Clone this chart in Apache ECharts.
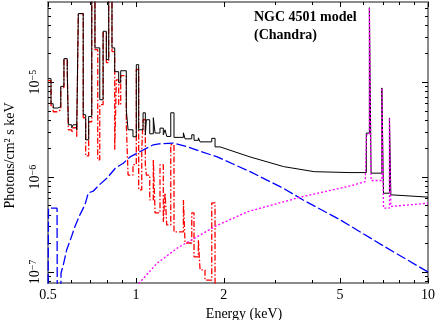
<!DOCTYPE html>
<html>
<head>
<meta charset="utf-8">
<script src="https://cdn.jsdelivr.net/npm/echarts@6/dist/echarts.min.js"></script>
<style>
html, body { margin: 0; padding: 0; background: #fff; }
#chart { width: 436px; height: 320px; }
</style>
</head>
<body>
<div id="chart"></div>
<script>
// total model (black): binned part below 2 keV (keV edges, photons/cm2/s/keV)
const totalEdges = [0.5, 0.512, 0.521, 0.540, 0.553, 0.567, 0.582, 0.587, 0.603, 0.610,
  0.627, 0.635, 0.660, 0.673, 0.689, 0.706, 0.724, 0.752, 0.772, 0.792,
  0.807, 0.828, 0.846, 0.873, 0.887, 0.927, 0.940, 0.977, 1.003, 1.022,
  1.058, 1.077, 1.086, 1.115, 1.147, 1.163, 1.209, 1.241, 1.258, 1.275,
  1.316, 1.350, 1.454, 1.473, 1.553, 1.581, 1.636, 1.658, 1.818, 1.866, 1.941];
const totalFlux = [1.09e-5, 5.93e-6, 5.34e-6, 5.51e-6, 9.03e-6, 1.77e-5, 1.33e-5, 3.56e-6, 3.31e-6, 3.56e-6,
  3.15e-6, 5.29e-5, 4.54e-6, 2.47e-6, 4.35e-6, 1.2e-4, 2.30e-5, 6.53e-6, 3.44e-5, 1.73e-5,
  1.2e-4, 2.30e-5, 1.29e-5, 9.88e-6, 1.32e-5, 5.12e-6, 3.15e-6, 2.66e-6, 1.53e-5, 3.15e-6,
  4.76e-6, 2.79e-6, 4.02e-6, 2.86e-6, 4.22e-6, 2.91e-6, 3.28e-6, 2.79e-6, 3.15e-6, 2.68e-6,
  4.76e-6, 2.62e-6, 2.93e-6, 2.53e-6, 2.79e-6, 2.44e-6, 2.59e-6, 2.35e-6, 2.56e-6, 2.08e-6];
// total model continuum 2-6 keV
const totalContE = [1.941, 2.46, 3.2, 4.08, 5.41, 6.15];
const totalContF = [2.02e-6, 1.63e-6, 1.29e-6, 1.14e-6, 1.115e-6, 1.115e-6];
// Fe K region
const totalFeEdges = [6.15, 6.30, 6.385, 6.95, 7.04, 7.38, 7.46];
const totalFeFlux = [2.91e-6, 6.1e-5, 1.10e-6, 8.7e-6, 6.76e-7, 4.2e-6];
const totalTailE = [7.46, 10];
const totalTailF = [6.5e-7, 6.15e-7];

// thermal component (red dash-dot)
const thermEdges = [0.5, 0.512, 0.521, 0.540, 0.553, 0.567, 0.582, 0.587, 0.603, 0.610,
  0.627, 0.635, 0.660, 0.673, 0.689, 0.706, 0.724, 0.740, 0.752, 0.772,
  0.792, 0.807, 0.828, 0.846, 0.857, 0.873, 0.887, 0.927, 0.940, 0.977,
  1.003, 1.022, 1.047, 1.058, 1.077, 1.086, 1.115, 1.147, 1.163, 1.209,
  1.241, 1.258, 1.275, 1.316, 1.350, 1.454, 1.473, 1.553, 1.581, 1.636,
  1.658, 1.724, 1.818, 1.866, 1.941];
const thermFlux = [1.04e-5, 5.65e-6, 4.88e-6, 5.12e-6, 8.75e-6, 1.77e-5, 1.29e-5, 3.15e-6, 2.93e-6, 3.31e-6,
  2.66e-6, 5.29e-5, 4.22e-6, 1.67e-6, 3.83e-6, 1.2e-4, 2.20e-5, 1.52e-6, 5.79e-6, 3.33e-5,
  1.61e-5, 1.2e-4, 2.10e-5, 1.94e-6, 1.06e-5, 5.79e-6, 1.17e-5, 3.56e-6, 1.05e-6, 1.35e-6,
  1.36e-5, 7.32e-7, 1.94e-6, 4.02e-6, 1.35e-6, 1.05e-6, 5.74e-7, 1.52e-6, 4.19e-7, 1.35e-6,
  3.36e-7, 6.81e-7, 3.13e-7, 2.19e-6, 2.64e-7, 5.74e-7, 2.02e-7, 4.19e-7, 1.44e-7, 2.17e-7,
  1.05e-7, 8.2e-8, 5.34e-7, 5e-8];

// absorbed power law (blue dashed)
const plE = [0.5, 0.502, 0.537, 0.538, 0.553, 0.554, 0.564, 0.579, 0.599, 0.618, 0.643, 0.669, 0.687,
  0.714, 0.75, 0.795, 0.85, 0.905, 0.955, 1.03, 1.147, 1.2, 1.34, 1.49, 1.65, 1.89, 2.46, 3.2, 3.75,
  5.04, 7.1, 10];
const plF = [4e-8, 4.7e-7, 4.7e-7, 4e-8, 4e-8, 9.7e-8, 1.18e-7, 1.7e-7, 2.26e-7, 3.0e-7, 4.0e-7, 5.1e-7, 6.8e-7,
  7.1e-7, 8.3e-7, 9.7e-7, 1.24e-6, 1.40e-6, 1.63e-6, 1.85e-6, 2.19e-6, 2.24e-6, 2.28e-6, 2.1e-6, 1.88e-6,
  1.64e-6, 1.14e-6, 7.6e-7, 5.7e-7, 3.5e-7, 1.85e-7, 1.0e-7];

// heavily absorbed power law + Fe lines (magenta dotted)
const hardE = [1.0, 1.18, 1.38, 1.70, 1.91, 2.42, 3.70, 5.45, 6.10, 6.15];
const hardF = [7e-8, 1.23e-7, 1.77e-7, 2.56e-7, 3.13e-7, 4.33e-7, 6.2e-7, 8.1e-7, 8.95e-7, 9.0e-7];
const hardFeEdges = [6.15, 6.30, 6.385, 6.95, 7.04, 7.38, 7.46];
const hardFeFlux = [2.8e-6, 6.1e-5, 9.2e-7, 8.7e-6, 4.7e-7, 4.2e-6];
const hardTailE = [7.46, 10];
const hardTailF = [4.9e-7, 5.3e-7];

// axis ticks
const xMajor = [0.5, 1, 2, 5, 10];
const xMinor = [0.6, 0.7, 0.8, 0.9, 3, 4, 6, 7, 8, 9];
const yMajor = [1e-7, 1e-6, 1e-5];
const yMinor = [8e-8, 9e-8, 2e-7, 3e-7, 4e-7, 5e-7, 6e-7, 7e-7, 8e-7, 9e-7,
  2e-6, 3e-6, 4e-6, 5e-6, 6e-6, 7e-6, 8e-6, 9e-6, 2e-5, 3e-5, 4e-5, 5e-5, 6e-5];

function steps(edges, flux) {
  const out = [];
  flux.forEach((f, i) => { out.push([edges[i], f], [edges[i + 1], f]); });
  return out;
}
function pairs(e, f) {
  return e.map((x, i) => [x, f[i]]);
}

const font = "Liberation Serif";
const frame = { show: true, lineStyle: { color: "#8a8a8a", width: 2 } };

function xAxisOf(pos, ticks, len, main) {
  return {
    type: "log", logBase: 10, min: 0.5, max: 10, position: pos,
    axisLine: main ? frame : { show: false },
    axisTick: { show: true, inside: true, length: len, customValues: ticks, lineStyle: { color: "#000", width: 1 } },
    axisLabel: main && pos === "bottom" ? {
      customValues: xMajor, margin: 5, color: "#000", fontFamily: font, fontSize: 14,
      formatter: (v) => String(+(+v).toPrecision(3)),
    } : { show: false },
    splitLine: { show: false },
    name: main && pos === "bottom" ? "Energy (keV)" : "",
    nameLocation: "middle", nameGap: 19,
    nameTextStyle: { fontFamily: font, fontSize: 14, color: "#000", padding: [0, 0, 0, 12] },
  };
}
function yAxisOf(pos, ticks, len, main) {
  return {
    type: "log", logBase: 10, min: 7.65e-8, max: 7e-5, position: pos,
    axisLine: main ? frame : { show: false },
    axisTick: { show: true, inside: true, length: len, customValues: ticks, lineStyle: { color: "#000", width: 1 } },
    axisLabel: main && pos === "left" ? {
      customValues: yMajor, margin: 6, rotate: 90, color: "#000",
      formatter: (v) => "{m|10}{s|\u2212" + Math.round(-Math.log10(v)) + "}",
      rich: {
        m: { fontFamily: font, fontSize: 14, color: "#000" },
        s: { fontFamily: font, fontSize: 10, color: "#000", verticalAlign: "top" },
      },
    } : { show: false },
    splitLine: { show: false },
    name: main && pos === "left" ? "Photons/cm\u00b2 s keV" : "",
    nameLocation: "middle", nameGap: 31,
    nameTextStyle: { fontFamily: font, fontSize: 14, color: "#000", padding: [0, 26, 0, 0] },
  };
}

const chart = echarts.init(document.getElementById("chart"));
chart.setOption({
  animation: false,
  title: {
    text: "NGC 4501 model\n(Chandra)", left: 254, top: 9, padding: 0,
    textStyle: { fontFamily: font, fontSize: 14, fontWeight: "bold", lineHeight: 17.5, color: "#000" },
  },
  grid: { left: 48, right: 8, top: 2, bottom: 37, outerBoundsMode: "none" },
  xAxis: [
    xAxisOf("bottom", xMajor, 5, true),
    xAxisOf("bottom", xMinor, 3, false),
    xAxisOf("top", xMajor, 5, true),
    xAxisOf("top", xMinor, 3, false),
  ],
  yAxis: [
    yAxisOf("left", yMajor, 6, true),
    yAxisOf("left", yMinor, 3, false),
    yAxisOf("right", yMajor, 6, true),
    yAxisOf("right", yMinor, 3, false),
  ],
  series: [
    {
      name: "thermal", type: "line", showSymbol: false,
      data: steps(thermEdges, thermFlux),
      lineStyle: { color: "#ff0000", width: 1.3, type: [6, 2, 1.5, 2] },
    },
    {
      name: "total", type: "line", showSymbol: false,
      data: [].concat(steps(totalEdges, totalFlux), pairs(totalContE, totalContF),
        steps(totalFeEdges, totalFeFlux), pairs(totalTailE, totalTailF)),
      lineStyle: { color: "#000", width: 1 },
    },
    {
      name: "power law", type: "line", showSymbol: false,
      data: pairs(plE, plF),
      lineStyle: { color: "#0000ff", width: 1.3, type: [10, 3] },
    },
    {
      name: "absorbed", type: "line", showSymbol: false,
      data: [].concat(pairs(hardE, hardF), steps(hardFeEdges, hardFeFlux), pairs(hardTailE, hardTailF)),
      lineStyle: { color: "#ff00ff", width: 1.3, type: [2, 2] },
    },
  ],
});
</script>
</body>
</html>
